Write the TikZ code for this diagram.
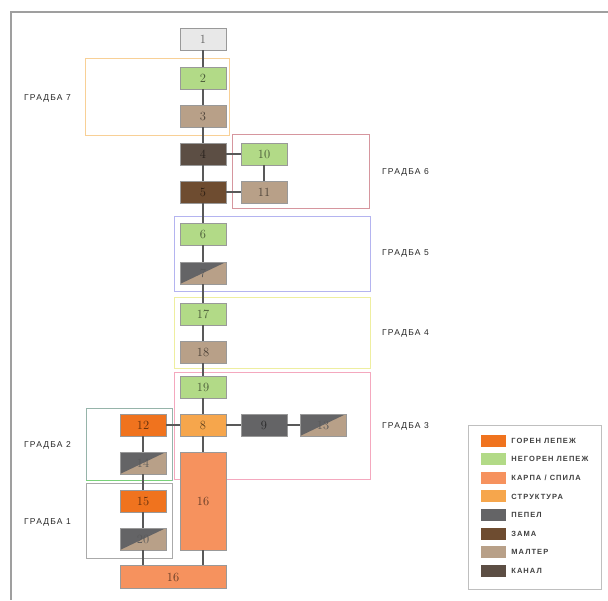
\documentclass[tikz,border=0pt]{standalone}
\usepackage{fontspec}
\usepackage{xcolor}
\usepackage{tikz}
\usetikzlibrary{positioning}
\newfontfamily\lblfont[LetterSpace=14]{Liberation Sans}
\definecolor{goren}{RGB}{240,115,30}
\definecolor{negoren}{RGB}{178,218,135}
\definecolor{karpa}{RGB}{246,146,94}
\definecolor{struktura}{RGB}{246,166,76}
\definecolor{pepel}{RGB}{100,100,102}
\definecolor{zama}{RGB}{110,76,48}
\definecolor{malter}{RGB}{184,160,136}
\definecolor{kanal}{RGB}{92,78,68}
\definecolor{prazno}{RGB}{232,232,232}
\definecolor{gr7}{RGB}{248,208,150}
\definecolor{gr6}{RGB}{214,150,158}
\definecolor{gr5}{RGB}{180,180,240}
\definecolor{gr4}{RGB}{238,238,160}
\definecolor{gr3}{RGB}{244,168,190}
\definecolor{gr2}{RGB}{150,180,170}
\definecolor{gr1}{RGB}{170,170,170}

\tikzset{
  blk/.style={draw=black!40, fill=#1, text=#1!40!black, minimum width=46pt,
    minimum height=22pt, inner sep=0pt, font=\fontsize{12.5}{12.5}\selectfont},
  split/.style={blk=malter, text=black!65, path picture={
    \fill[pepel] (path picture bounding box.south west)
      -- (path picture bounding box.north west)
      -- (path picture bounding box.north east) -- cycle;}},
  link/.style={draw=black!65, line width=1.1pt},
  grp/.style={draw=#1, line width=1pt},
  grplbl/.style={anchor=west, inner sep=0pt, text=black!85,
    font=\lblfont\fontsize{8.5}{8.5}\selectfont},
  leglbl/.style={anchor=west, inner sep=0pt, text=black!75,
    font=\lblfont\bfseries\fontsize{7.5}{7.5}\selectfont}
}

\begin{document}
\begin{tikzpicture}[x=1pt, y=-1pt]
\useasboundingbox (0,0) rectangle (608,600);
\draw[gray!75, line width=1.3pt] (608,12) -- (11,12) -- (11,600);
% groups
\draw[grp=gr7] (85,58) rectangle (229,135);
\draw[grp=gr6] (232,134) rectangle (369,208);
\draw[grp=gr5] (174,216) rectangle (370,291);
\draw[grp=gr4] (174,297) rectangle (370,368);
\draw[grp=gr3] (174,372) rectangle (370,479);
\draw[grp=gr2] (86,408) rectangle (172,480);
\draw[green!50!gray!70, line width=1pt] (86,480) -- (172,480);
\draw[grp=gr1] (86,483) rectangle (172,558);
\node[grplbl] (l7) at (24,98) {ГРАДБА 7};
\node[grplbl] (l6) at (382,172) {ГРАДБА 6};
\node[grplbl] (l5) at (382,253) {ГРАДБА 5};
\node[grplbl] (l4) at (382,333) {ГРАДБА 4};
\node[grplbl] (l3) at (382,426) {ГРАДБА 3};
\node[grplbl] (l2) at (24,445) {ГРАДБА 2};
\node[grplbl] (l1) at (24,522) {ГРАДБА 1};
% boxes
\node[blk=prazno] (n1) at (203,39) {1};
\node[blk=negoren] (n2) at (203,78) {2};
\node[blk=malter] (n3) at (203,116) {3};
\node[blk=kanal] (n4) at (203,154) {4};
\node[blk=zama] (n5) at (203,192) {5};
\node[blk=negoren] (n10) at (264,154) {10};
\node[blk=malter] (n11) at (264,192) {11};
\node[blk=negoren] (n6) at (203,234) {6};
\node[split] (n7) at (203,273) {7};
\node[blk=negoren] (n17) at (203,314) {17};
\node[blk=malter] (n18) at (203,352) {18};
\node[blk=negoren] (n19) at (203,387) {19};
\node[blk=struktura] (n8) at (203,425) {8};
\node[blk=pepel] (n9) at (264,425) {9};
\node[split] (n13) at (323,425) {13};
\node[blk=goren] (n12) at (143,425) {12};
\node[split] (n14) at (143,463) {14};
\node[blk=goren] (n15) at (143,501) {15};
\node[split] (n20) at (143,539) {20};
\node[blk=karpa, minimum height=98pt] (n16a) at (203,501) {16};
\node[blk=karpa, minimum width=106pt, minimum height=23pt] (n16b) at (173,577) {16};
% connectors
\foreach \a/\b in {n1/n2, n2/n3, n3/n4, n4/n5, n5/n6, n6/n7, n7/n17, n17/n18,
  n18/n19, n19/n8, n8/n16a, n4/n10, n5/n11, n10/n11, n8/n12, n8/n9, n9/n13,
  n12/n14, n14/n15, n15/n20}
  \draw[link] (\a) -- (\b);
\draw[link] (n16a) -- (n16a |- n16b.north);
\draw[link] (n20) -- (n20 |- n16b.north);
% legend
\draw[gray!50, line width=1pt] (468,425) rectangle (601,589);
\foreach \c/\t [count=\i from 0] in {goren/{ГОРЕН ЛЕПЕЖ}, negoren/{НЕГОРЕН ЛЕПЕЖ},
  karpa/{КАРПА / СПИЛА}, struktura/{СТРУКТУРА}, pepel/{ПЕПЕЛ}, zama/{ЗАМА},
  malter/{МАЛТЕР}, kanal/{КАНАЛ}} {
  \node[fill=\c, minimum width=25pt, minimum height=12pt, inner sep=0pt]
    (sw\i) at (493.5,440.5+18.65*\i) {};
  \node[leglbl, right=5pt of sw\i] (lg\i) {\t};
}
\end{tikzpicture}
\end{document}
